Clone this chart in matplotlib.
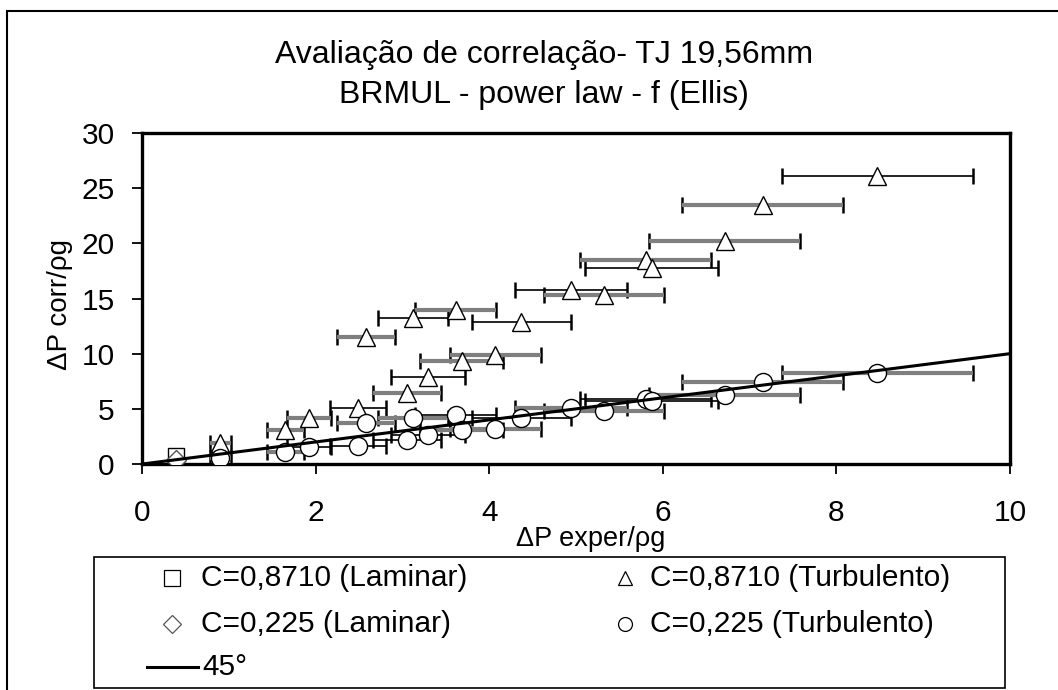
import matplotlib
matplotlib.use("Agg")
import matplotlib.pyplot as plt
from matplotlib.lines import Line2D
from matplotlib.patches import Rectangle

plt.rcParams['font.family'] = ['Liberation Sans', 'DejaVu Sans']

# ---- data ----
x_lam = [0.39]
y_lam_087 = [0.73]
y_lam_0225 = [0.33]

x_turb = [0.90, 1.65, 1.92, 2.49, 2.58, 3.05, 3.12, 3.29, 3.61, 3.68,
          4.07, 4.37, 4.94, 5.32, 5.80, 5.87, 6.71, 7.15, 8.47]
y_tri = [1.90, 3.10, 4.15, 5.05, 11.5, 6.40, 13.25, 7.90, 14.0, 9.36,
         9.90, 12.85, 15.8, 15.3, 18.5, 17.8, 20.2, 23.45, 26.1]
y_circ = [0.52, 1.12, 1.50, 1.67, 3.70, 2.18, 4.20, 2.64, 4.45, 3.10,
          3.15, 4.15, 5.06, 4.76, 5.88, 5.67, 6.27, 7.40, 8.25]
xerr_pct = 13  # percentage error bars on x
# error-bar style per point: 'g' = thick grey, 'k' = thin black
bar_tri = ['g', 'g', 'g', 'k', 'g', 'g', 'k', 'k', 'g', 'g',
           'g', 'k', 'k', 'g', 'g', 'k', 'g', 'g', 'k']
bar_circ = ['g', 'g', 'k', 'k', 'g', 'k', 'g', 'k', 'k', 'g',
            'g', 'k', 'g', 'g', 'k', 'k', 'g', 'g', 'g']
line45_x = [0, 10]
line45_y = [0, 10]

xticks = [0, 2, 4, 6, 8, 10]
yticks = [0, 5, 10, 15, 20, 25, 30]

labels = ['C=0,8710 (Laminar)', 'C=0,8710 (Turbulento)',
          'C=0,225 (Laminar)', 'C=0,225 (Turbulento)', '45°']

W, H = 1058, 690
fig = plt.figure(figsize=(W / 100, H / 100), dpi=100)
fig.patch.set_facecolor('white')


def fx(px):
    return px / W


def fy(py):
    return 1 - py / H


# outer frame
fig.add_artist(Rectangle((fx(7), -0.1), 1.2, fy(11) + 0.1,
                         transform=fig.transFigure, fill=False,
                         edgecolor='black', linewidth=1.5))

ax = fig.add_axes([fx(142.3), fy(464), (1010 - 142.3) / W, (464 - 133) / H])
ax.set_xlim(0, 10)
ax.set_ylim(0, 30)


def draw_bars(xs, ys, styles):
    for xv, yv, st in zip(xs, ys, styles):
        e = xv * xerr_pct / 100.0
        ax.errorbar([xv], [yv], xerr=[e], fmt='none', ecolor='black',
                    elinewidth=1.2, capsize=6, capthick=1.8, zorder=2)
        if st == 'g':
            ax.errorbar([xv], [yv], xerr=[e], fmt='none', ecolor='#7f7f7f',
                        elinewidth=3.0, capsize=0, zorder=2.1)


draw_bars(x_turb, y_tri, bar_tri)
draw_bars(x_turb, y_circ, bar_circ)

mk = dict(linestyle='none', markerfacecolor='white', markeredgecolor='black',
          markeredgewidth=1.0, zorder=3)
ax.plot(x_turb, y_tri, marker='^', markersize=13.5, **mk)
ax.plot(x_turb, y_circ, marker='o', markersize=13, **mk)
ax.plot(x_lam, y_lam_087, marker='s', markersize=12, **mk)
ax.plot(x_lam, y_lam_0225, marker='D', markersize=10,
        **dict(mk, markeredgecolor='#555555'))
ax.plot(line45_x, line45_y, color='black', linewidth=2.2, zorder=4)

for s in ax.spines.values():
    s.set_linewidth(2.4)
ax.set_xticks(xticks)
ax.set_yticks(yticks)
ax.set_xticklabels([str(v) for v in xticks])
ax.set_yticklabels([str(v) for v in yticks])
ax.tick_params(axis='both', direction='out', length=7, width=1.3,
               labelsize=21.5, colors='black')
ax.tick_params(axis='x', pad=18)
ax.tick_params(axis='y', pad=13)

fig.text(fx(591), fy(539), 'ΔP exper/ρg', ha='center', va='center', fontsize=19.5)
fig.text(fx(60), fy(305), 'ΔP corr/ρg', ha='center', va='center',
         rotation=90, fontsize=20)

fig.text(fx(544), fy(55), 'Avaliação de correlação- TJ 19,56mm',
         ha='center', va='center', fontsize=23)
fig.text(fx(544), fy(95), 'BRMUL - power law - f (Ellis)',
         ha='center', va='center', fontsize=23)

# ---- legend box (drawn in figure pixels) ----
fig.add_artist(Rectangle((fx(94), fy(688)), (1005 - 94) / W, (688 - 557) / H,
                         transform=fig.transFigure, fill=True, facecolor='white',
                         edgecolor='black', linewidth=1.2, zorder=5))
lk = dict(linestyle='none', markerfacecolor='white', markeredgecolor='black',
          markeredgewidth=0.9, transform=fig.transFigure, zorder=6)
row_y = [578, 624, 667]
entries = [
    (172, row_y[0], 's', 12, 'black', labels[0], 201),
    (625, row_y[0], '^', 10, 'black', labels[1], 650),
    (172, row_y[1], 'D', 9.5, '#555555', labels[2], 201),
    (625, row_y[1], 'o', 10, 'black', labels[3], 650),
]
for mxp, myp, m, ms, ec, lab, tx in entries:
    fig.add_artist(Line2D([fx(mxp)], [fy(myp)], marker=m, markersize=ms,
                          **dict(lk, markeredgecolor=ec)))
    fig.text(fx(tx), fy(myp), lab, ha='left', va='center', fontsize=21.5, zorder=6)
fig.add_artist(Line2D([fx(147), fx(198)], [fy(row_y[2]), fy(row_y[2])],
                      color='black', linewidth=2.2, transform=fig.transFigure, zorder=6))
fig.text(fx(202), fy(row_y[2]), labels[4], ha='left', va='center', fontsize=21.5, zorder=6)

fig.savefig('out.png', dpi=100, facecolor='white')
